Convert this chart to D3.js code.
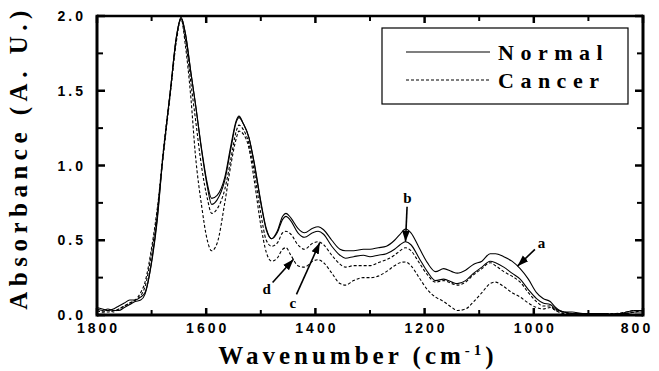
<!DOCTYPE html>
<html>
<head>
<meta charset="utf-8">
<title></title>
<style>
body { margin: 0; background: #fff; }
svg { display: block; }
.tick-label { font: bold 14px "Liberation Sans", Arial, sans-serif; letter-spacing: 3px; fill: #000; }
.axis-title { font: bold 25px "Liberation Serif", "Times New Roman", serif; fill: #000; }
.legend-text { font: bold 22px "Liberation Serif", "Times New Roman", serif; letter-spacing: 6.5px; fill: #000; }
.note { font: bold 15px "Liberation Serif", "Times New Roman", serif; fill: #000; }
path.spec { fill: none; stroke: #000; stroke-width: 1.1px; }
</style>
</head>
<body>
<script src="https://cdn.jsdelivr.net/npm/d3@7"></script>
<script>

// wavenumber grid (cm-1) shared by the four spectra
var wavenumber = [1800, 1790, 1780, 1770, 1760, 1750, 1740, 1730, 1720, 1712, 1700, 1690, 1680, 1665, 1655, 1646,
  1638, 1628, 1620, 1608, 1598, 1590, 1580, 1566, 1555, 1545, 1540, 1532, 1522, 1512, 1500, 1490, 1480, 1470,
  1460, 1454, 1445, 1432, 1420, 1405, 1395, 1385, 1370, 1355, 1345, 1330, 1312, 1300, 1285, 1270, 1255, 1245,
  1235, 1225, 1210, 1195, 1180, 1165, 1150, 1140, 1125, 1110, 1095, 1080, 1070, 1055, 1040, 1025, 1010, 995,
  983, 970, 960, 945, 930, 910, 890, 870, 850, 830, 815, 800];

// normal tissue, upper curve
var normalA = [0.05, 0.04, 0.03, 0.04, 0.06, 0.08, 0.10, 0.10, 0.12, 0.15, 0.35, 0.62, 1.03, 1.52, 1.85, 1.99,
  1.88, 1.62, 1.42, 1.10, 0.88, 0.78, 0.80, 0.92, 1.13, 1.30, 1.33, 1.28, 1.19, 1.02, 0.76, 0.58, 0.51, 0.56,
  0.66, 0.68, 0.65, 0.58, 0.55, 0.58, 0.59, 0.57, 0.50, 0.44, 0.43, 0.43, 0.44, 0.44, 0.45, 0.46, 0.50, 0.54,
  0.575, 0.55, 0.45, 0.35, 0.29, 0.31, 0.29, 0.28, 0.30, 0.34, 0.36, 0.41, 0.41, 0.39, 0.36, 0.31, 0.24, 0.15,
  0.11, 0.09, 0.05, 0.02, 0.02, 0.01, 0.01, 0.01, 0.00, 0.02, 0.03, 0.03];

// normal tissue, lower curve
var normalB = [0.04, 0.03, 0.04, 0.03, 0.03, 0.05, 0.07, 0.09, 0.10, 0.14, 0.36, 0.64, 1.03, 1.52, 1.85, 1.99,
  1.88, 1.62, 1.42, 1.09, 0.86, 0.74, 0.77, 0.90, 1.11, 1.29, 1.32, 1.28, 1.19, 1.01, 0.75, 0.57, 0.51, 0.55,
  0.64, 0.66, 0.63, 0.55, 0.52, 0.55, 0.56, 0.54, 0.46, 0.40, 0.38, 0.39, 0.40, 0.39, 0.40, 0.41, 0.44, 0.47,
  0.49, 0.47, 0.38, 0.29, 0.23, 0.24, 0.22, 0.21, 0.23, 0.28, 0.32, 0.36, 0.35, 0.32, 0.28, 0.24, 0.17, 0.11,
  0.08, 0.07, 0.04, 0.02, 0.01, 0.01, 0.01, 0.00, 0.01, 0.01, 0.02, 0.02];

// cancer tissue, upper curve
var cancerA = [0.03, 0.02, 0.03, 0.02, 0.04, 0.06, 0.08, 0.10, 0.13, 0.19, 0.42, 0.68, 1.05, 1.52, 1.84, 1.98,
  1.84, 1.55, 1.32, 0.98, 0.78, 0.68, 0.71, 0.84, 1.04, 1.23, 1.27, 1.24, 1.15, 0.96, 0.68, 0.50, 0.46, 0.48,
  0.55, 0.56, 0.54, 0.47, 0.44, 0.48, 0.49, 0.47, 0.40, 0.34, 0.32, 0.33, 0.33, 0.33, 0.35, 0.37, 0.40, 0.43,
  0.45, 0.43, 0.35, 0.27, 0.22, 0.23, 0.21, 0.20, 0.22, 0.27, 0.31, 0.35, 0.33, 0.29, 0.26, 0.22, 0.15, 0.09,
  0.06, 0.06, 0.03, 0.02, 0.01, 0.01, 0.00, 0.01, 0.01, 0.02, 0.03, 0.03];

// cancer tissue, lower curve
var cancerB = [0.03, 0.02, 0.02, 0.03, 0.04, 0.06, 0.08, 0.10, 0.15, 0.22, 0.45, 0.70, 1.02, 1.50, 1.82, 1.98,
  1.80, 1.45, 1.08, 0.72, 0.50, 0.43, 0.48, 0.75, 1.00, 1.18, 1.23, 1.21, 1.12, 0.90, 0.60, 0.42, 0.36, 0.38,
  0.44, 0.45, 0.40, 0.33, 0.32, 0.36, 0.37, 0.35, 0.28, 0.21, 0.20, 0.23, 0.25, 0.25, 0.26, 0.29, 0.33, 0.35,
  0.355, 0.33, 0.25, 0.17, 0.12, 0.09, 0.05, 0.03, 0.04, 0.09, 0.15, 0.21, 0.22, 0.19, 0.15, 0.12, 0.08, 0.05,
  0.04, 0.05, 0.03, 0.01, 0.01, 0.00, 0.01, 0.01, 0.00, 0.01, 0.02, 0.03];

var xTicks = [1800, 1600, 1400, 1200, 1000, 800];
var xMinor = [1700, 1500, 1300, 1100, 900];
var yTicks = [0.0, 0.5, 1.0, 1.5, 2.0];
var yMinor = [0.25, 0.75, 1.25, 1.75];

var legendLabels = ["Normal", "Cancer"];

// arrow labels: letter, wavenumber pointed at, curve pointed at
var notes = [
  {label: "a", wn: 1030, curve: "normalA"},
  {label: "b", wn: 1235, curve: "normalB"},
  {label: "c", wn: 1392, curve: "cancerA"},
  {label: "d", wn: 1440, curve: "cancerB"}
];

var width = 659, height = 371;
var margin = {top: 16, right: 16, bottom: 56, left: 97};

var svg = d3.select("body").append("svg")
    .attr("width", width)
    .attr("height", height);

var x = d3.scaleLinear().domain([1800, 800]).range([margin.left, width - margin.right]);
var y = d3.scaleLinear().domain([0, 2]).range([height - margin.bottom, margin.top]);

var series = [
  {name: "normalA", values: normalA, dash: null},
  {name: "normalB", values: normalB, dash: null},
  {name: "cancerA", values: cancerA, dash: "3,2"},
  {name: "cancerB", values: cancerB, dash: "3,2"}
];

var line = d3.line()
    .x(function(d) { return x(d[0]); })
    .y(function(d) { return y(d[1]); })
    .curve(d3.curveMonotoneX);

svg.append("clipPath").attr("id", "plot")
  .append("rect")
    .attr("x", x(1800)).attr("y", y(2) - 3)
    .attr("width", x(800) - x(1800)).attr("height", y(0) - y(2) + 3);

svg.append("g").attr("clip-path", "url(#plot)")
  .selectAll("path")
  .data(series)
  .enter().append("path")
    .attr("class", "spec")
    .attr("stroke-dasharray", function(d) { return d.dash; })
    .attr("d", function(d) {
      return line(wavenumber.map(function(w, i) { return [w, d.values[i]]; }));
    });

// frame
var x0 = x(1800), x1 = x(800), y0 = y(0), y1 = y(2);
svg.append("line").attr("x1", x0).attr("x2", x1).attr("y1", y0).attr("y2", y0)
    .attr("stroke", "#000").attr("stroke-width", 3);
svg.append("line").attr("x1", x0).attr("x2", x1).attr("y1", y1).attr("y2", y1)
    .attr("stroke", "#000").attr("stroke-width", 2.5);
svg.append("line").attr("x1", x0).attr("x2", x0).attr("y1", y1 - 1.2).attr("y2", y0 + 1.5)
    .attr("stroke", "#000").attr("stroke-width", 3);
svg.append("line").attr("x1", x1).attr("x2", x1).attr("y1", y1 - 1.2).attr("y2", y0 + 1.5)
    .attr("stroke", "#000").attr("stroke-width", 3);

// inward ticks on all four sides
var ticks = svg.append("g").attr("stroke", "#000");
function xTick(v, len, w) {
  ticks.append("line").attr("x1", x(v)).attr("x2", x(v)).attr("y1", y0).attr("y2", y0 - len).attr("stroke-width", w);
  ticks.append("line").attr("x1", x(v)).attr("x2", x(v)).attr("y1", y1).attr("y2", y1 + len).attr("stroke-width", w);
}
function yTick(v, len, w) {
  ticks.append("line").attr("x1", x0).attr("x2", x0 + len).attr("y1", y(v)).attr("y2", y(v)).attr("stroke-width", w);
  ticks.append("line").attr("x1", x1).attr("x2", x1 - len).attr("y1", y(v)).attr("y2", y(v)).attr("stroke-width", w);
}
xTicks.forEach(function(v) { xTick(v, 7, 2.5); });
xMinor.forEach(function(v) { xTick(v, 5, 2); });
yTicks.forEach(function(v) { yTick(v, 8, 2.5); });
yMinor.forEach(function(v) { yTick(v, 6, 2); });

svg.selectAll(".xl").data(xTicks).enter().append("text")
    .attr("class", "tick-label")
    .attr("x", function(d) { return Math.min(x(d) + 1.5, width - 22); })
    .attr("y", y0 + 18)
    .attr("text-anchor", "middle")
    .text(function(d) { return d; });

svg.selectAll(".yl").data(yTicks).enter().append("text")
    .attr("class", "tick-label")
    .attr("x", x0 - 11)
    .attr("y", function(d) { return y(d) + 5; })
    .attr("text-anchor", "end")
    .text(function(d) { return d3.format(".1f")(d); });

// axis titles
var xt = svg.append("text")
    .attr("class", "axis-title")
    .attr("x", (x0 + x1) / 2 - 12)
    .attr("y", 364)
    .attr("text-anchor", "middle")
    .style("letter-spacing", "4px");
xt.append("tspan").text("Wavenumber (cm");
xt.append("tspan").attr("dy", -9).style("font-size", "15px").text("-1");
xt.append("tspan").attr("dy", 9).text(")");

svg.append("text")
    .attr("class", "axis-title")
    .attr("transform", "translate(27," + ((y0 + y1) / 2 - 8) + ") rotate(-90)")
    .attr("text-anchor", "middle")
    .style("letter-spacing", "5.5px")
    .text("Absorbance (A. U.)");

// legend
var lg = svg.append("g");
lg.append("rect")
    .attr("x", 382).attr("y", 28).attr("width", 246).attr("height", 76)
    .attr("fill", "#fff").attr("stroke", "#000").attr("stroke-width", 1.2);
legendLabels.forEach(function(name, i) {
  var ly = 52 + i * 28;
  lg.append("line")
      .attr("x1", 406).attr("x2", 490).attr("y1", ly).attr("y2", ly)
      .attr("stroke", "#000").attr("stroke-width", 1.1)
      .attr("stroke-dasharray", i ? "3,2" : null);
  lg.append("text")
      .attr("class", "legend-text")
      .attr("x", 498).attr("y", ly + 8)
      .text(name);
});

// arrows with letters
svg.append("defs").append("marker")
    .attr("id", "head").attr("viewBox", "0 0 10 10")
    .attr("refX", 10).attr("refY", 5)
    .attr("markerWidth", 7).attr("markerHeight", 7)
    .attr("orient", "auto")
  .append("path").attr("d", "M0,1.5L10,5L0,8.5Z").attr("fill", "#000");

var lookup = {normalA: normalA, normalB: normalB, cancerA: cancerA, cancerB: cancerB};
function valueAt(arr, wn) {
  for (var i = 0; i < wavenumber.length - 1; i++) {
    if (wavenumber[i] >= wn && wavenumber[i + 1] <= wn) {
      var t = (wavenumber[i] - wn) / (wavenumber[i] - wavenumber[i + 1]);
      return arr[i] + t * (arr[i + 1] - arr[i]);
    }
  }
  return 0;
}
// label offset from the arrow tip, in px
var offsets = {a: [24, -23], b: [2, -44], c: [-27, 60], d: [-27, 30]};
notes.forEach(function(n) {
  var tx = x(n.wn), ty = y(valueAt(lookup[n.curve], n.wn));
  var o = offsets[n.label];
  var lx = tx + o[0], ly = ty + o[1];
  var dx = -o[0], dy = -o[1], len = Math.sqrt(dx * dx + dy * dy);
  svg.append("line")
      .attr("x1", lx + dx / len * 9).attr("y1", ly + dy / len * 9)
      .attr("x2", tx).attr("y2", ty)
      .attr("stroke", "#000").attr("stroke-width", 1.6)
      .attr("marker-end", "url(#head)");
  svg.append("text")
      .attr("class", "note")
      .attr("x", lx).attr("y", ly + 5)
      .attr("text-anchor", "middle")
      .text(n.label);
});

</script>
</body>
</html>
